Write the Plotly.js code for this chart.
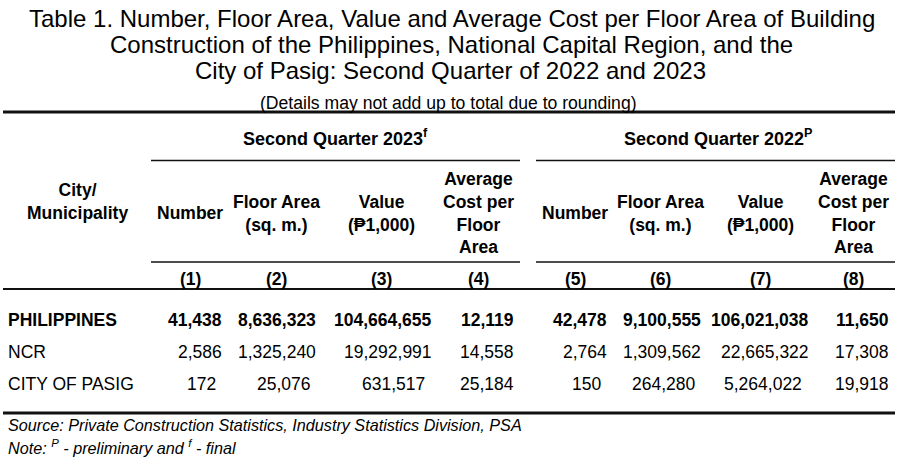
<!DOCTYPE html>
<html>
<head>
<meta charset="utf-8">
<script src="https://cdn.plot.ly/plotly-3.0.1.min.js"></script>
<style>html,body{margin:0;padding:0;background:#fff;}#chart{width:898px;height:464px;}</style>
</head>
<body>
<div id="chart"></div>
<script>
// ---- Data ----
const titleLines = [
  'Table 1. Number, Floor Area, Value and Average Cost per Floor Area of Building',
  'Construction of the Philippines, National Capital Region, and the',
  'City of Pasig: Second Quarter of 2022 and 2023'
];
const subtitle = '(Details may not add up to total due to rounding)';
const groupLabels = ['Second Quarter 2023<sup>f</sup>', 'Second Quarter 2022<sup>P</sup>'];
const stubHeader = 'City/<br>Municipality';
const columnHeaders = [
  'Number', 'Floor Area<br>(sq. m.)', 'Value<br>(₱1,000)', 'Average<br>Cost per<br>Floor<br>Area',
  'Number', 'Floor Area<br>(sq. m.)', 'Value<br>(₱1,000)', 'Average<br>Cost per<br>Floor<br>Area'
];
const columnNumbers = ['(1)', '(2)', '(3)', '(4)', '(5)', '(6)', '(7)', '(8)'];
const rowLabels = ['PHILIPPINES', 'NCR', 'CITY OF PASIG'];
const number2023 = [41438, 2586, 172];
const floorArea2023 = [8636323, 1325240, 25076];
const value2023 = [104664655, 19292991, 631517];
const avgCost2023 = [12119, 14558, 25184];
const number2022 = [42478, 2764, 150];
const floorArea2022 = [9100555, 1309562, 264280];
const value2022 = [106021038, 22665322, 5264022];
const avgCost2022 = [11650, 17308, 19918];
const sourceNote = 'Source: Private Construction Statistics, Industry Statistics Division, PSA';
const noteText = 'Note: <sup>P</sup> - preliminary and <sup>f</sup> - final';

// ---- Layout geometry ----
const W = 898, H = 464;
const FONT = 'Liberation Sans, Arial, sans-serif';
const BODY = 17.5;
const columns = [number2023, floorArea2023, value2023, avgCost2023,
                 number2022, floorArea2022, value2022, avgCost2022];
const colCenters = [190, 276, 381, 478, 575, 660, 760, 853];
const colRight = [224, 318, 434, 516, 609, 703, 811, 891];
const lastRowShift = [-6, -5, -7, 0, -6, -5, -7, 0];
const rowY = [320, 352, 384];

const ann = [];
function txt(x, y, text, opts) {
  opts = opts || {};
  ann.push(Object.assign({
    x: x, y: y, xref: 'x', yref: 'y', text: text, showarrow: false,
    xanchor: 'center', yanchor: 'middle', align: 'center',
    font: {family: FONT, size: opts.size || BODY, color: '#000'}
  }, opts.extra || {}));
}

// Title
txt(452, 18, titleLines[0], {size: 24});
txt(108, 44, titleLines[1], {size: 24, extra: {xanchor: 'left'}});
txt(450, 70, titleLines[2], {size: 24});
txt(448, 103, subtitle, {size: 17.6});

// Group headers
txt(335, 137, '<b>' + groupLabels[0] + '</b>', {size: 18});
txt(718, 137, '<b>' + groupLabels[1] + '</b>', {size: 18});

// Stub header
txt(77, 201, '<b>' + stubHeader + '</b>');

// Column headers
columnHeaders.forEach((h, i) => txt(colCenters[i], 213, '<b>' + h + '</b>'));
columnNumbers.forEach((c, i) => txt(colCenters[i], 279, '<b>' + c + '</b>'));

// Rows
rowLabels.forEach((lab, r) => {
  const bold = r === 0;
  txt(6, rowY[r], bold ? '<b>' + lab + '</b>' : lab, {extra: {xanchor: 'left'}});
  columns.forEach((col, c) => {
    const s = col[r].toLocaleString('en-US');
    const x = colRight[c] + (r === 2 ? lastRowShift[c] : 0);
    txt(x, rowY[r], bold ? '<b>' + s + '</b>' : s, {extra: {xanchor: 'right'}});
  });
});

// Footer
txt(6, 425, '<i>' + sourceNote + '</i>', {size: 16.2, extra: {xanchor: 'left'}});
txt(6, 447, '<i>' + noteText + '</i>', {size: 16.2, extra: {xanchor: 'left'}});

// Rules
function rule(x0, x1, y, w) {
  return {type: 'line', xref: 'x', yref: 'y', x0: x0, x1: x1, y0: y, y1: y,
          line: {color: '#111', width: w}};
}
const shapes = [
  rule(3, 895, 112, 3),
  rule(151, 520, 160.5, 1.5),
  rule(536, 895, 160.5, 1.5),
  rule(151, 520, 262, 1.5),
  rule(536, 895, 262, 1.5),
  rule(3, 895, 289, 2),
  rule(3, 895, 413, 3)
];

const layout = {
  width: W, height: H,
  margin: {l: 0, r: 0, t: 0, b: 0},
  paper_bgcolor: '#fff', plot_bgcolor: '#fff',
  showlegend: false,
  xaxis: {range: [0, W], visible: false, fixedrange: true},
  yaxis: {range: [H, 0], visible: false, fixedrange: true},
  annotations: ann,
  shapes: shapes
};

Plotly.newPlot('chart', [{x: [], y: [], type: 'scatter', mode: 'markers', hoverinfo: 'skip'}],
  layout, {staticPlot: true, displayModeBar: false});
</script>
</body>
</html>
